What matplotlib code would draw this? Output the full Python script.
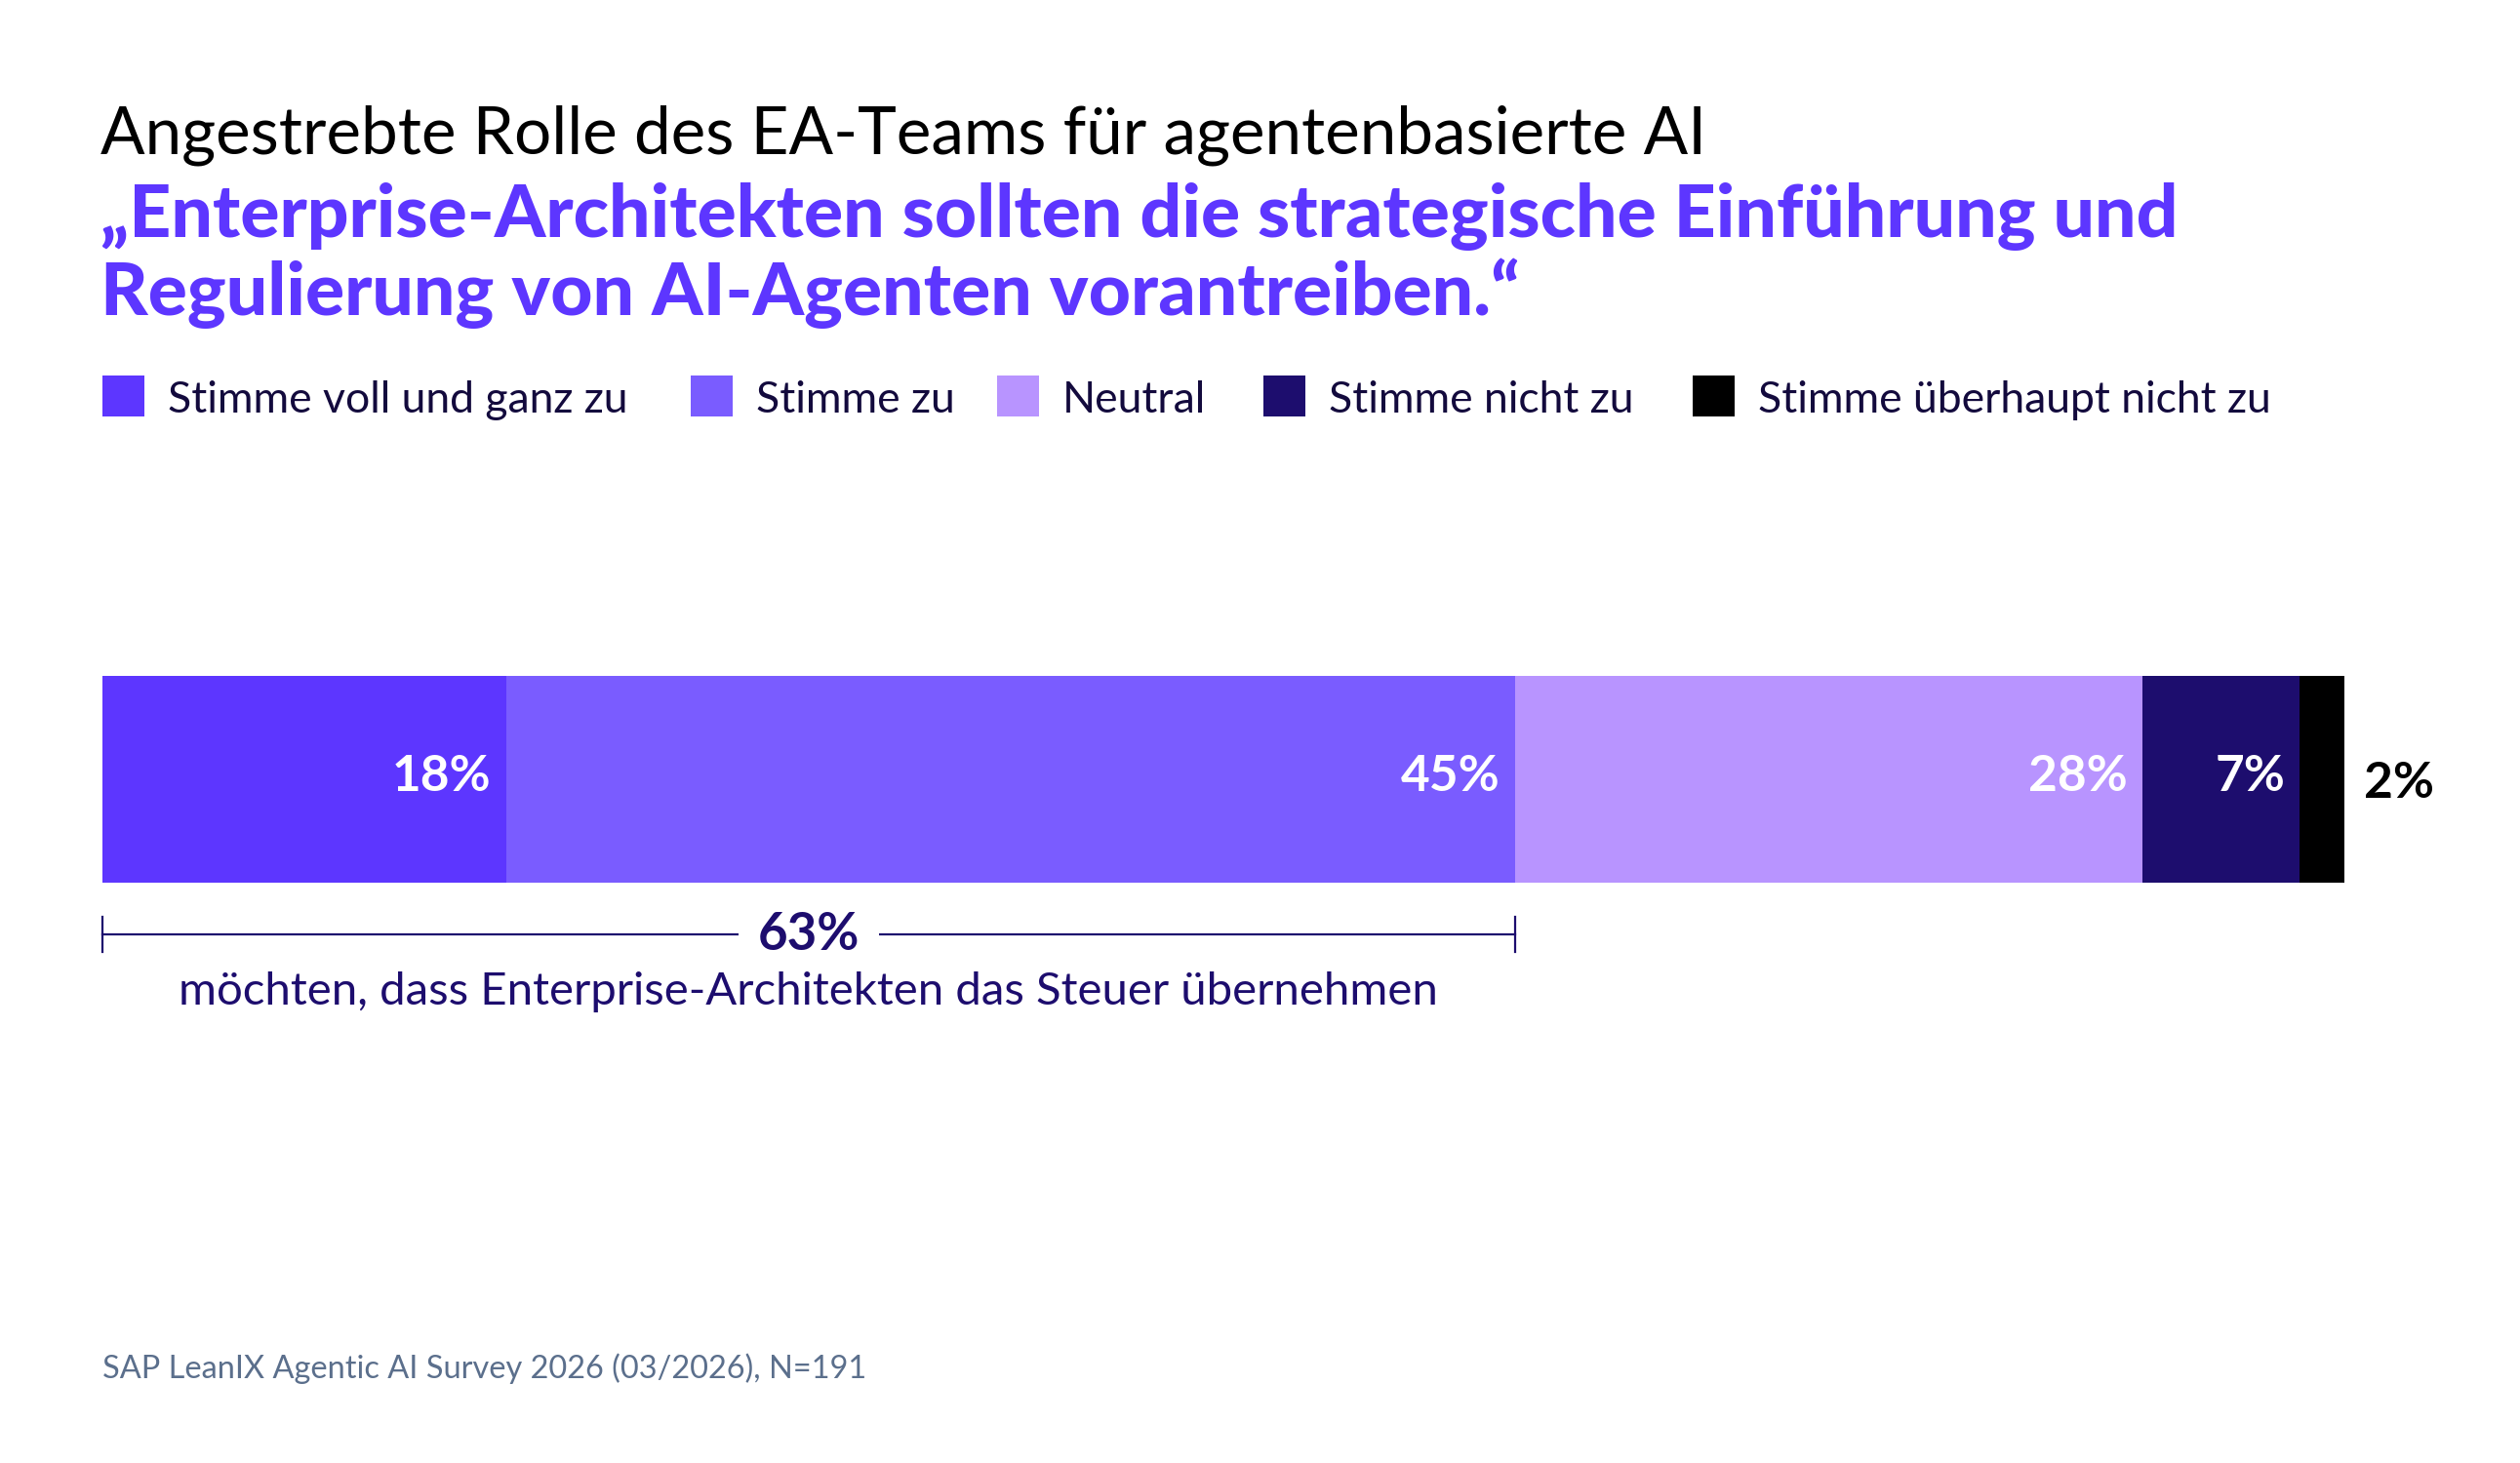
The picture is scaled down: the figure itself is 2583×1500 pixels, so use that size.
import matplotlib
matplotlib.use("Agg")
import matplotlib.pyplot as plt
from matplotlib.patches import Rectangle

# data
categories = ["Stimme voll und ganz zu", "Stimme zu", "Neutral",
              "Stimme nicht zu", "Stimme überhaupt nicht zu"]
values = [18, 45, 28, 7, 2]
colors = ["#5d36ff", "#7a5cff", "#b894ff", "#1d0d6e", "#000000"]
label_colors = ["white", "white", "white", "white", "black"]

title = "Angestrebte Rolle des EA-Teams für agentenbasierte AI"
subtitle_lines = ["„Enterprise-Architekten sollten die strategische Einführung und",
                  "Regulierung von AI-Agenten vorantreiben.“"]
bracket_label = "63%"
bracket_text = "möchten, dass Enterprise-Architekten das Steuer übernehmen"
source = "SAP LeanIX Agentic AI Survey 2026 (03/2026), N=191"

W, H = 2583, 1500
plt.rcParams['font.family'] = ['Lato', 'DejaVu Sans']

fig = plt.figure(figsize=(W / 100, H / 100), dpi=100)
fig.patch.set_facecolor("white")

# overlay axes in pixel coords for the text parts
ov = fig.add_axes([0, 0, 1, 1])
ov.set_xlim(0, W)
ov.set_ylim(H, 0)
ov.axis("off")

navy = "#1d0d6e"
ink = "#130a3d"

ov.text(103, 158, title, fontsize=48.5, fontweight="normal", color="#000000",
        va="baseline", ha="left")
for i, line in enumerate(subtitle_lines):
    ov.text(103, 243 + i * 80, line, fontsize=54, fontweight="black",
            color="#5d36ff", va="baseline", ha="left")

# legend
leg_x = [105, 708, 1022, 1295, 1735]
for cat, col, x in zip(categories, colors, leg_x):
    ov.add_patch(Rectangle((x, 385), 43, 42, facecolor=col, edgecolor="none"))
    ov.text(x + 67, 423, cat, fontsize=32, color=ink, va="baseline", ha="left")

ov.text(105, 1413, source, fontsize=23.4, color="#5b6f8c", va="baseline", ha="left")

# bar axes
bar_top, bar_bot = 693, 905
x0, x1 = 105, 2403
ax = fig.add_axes([x0 / W, 1 - bar_bot / H, (x1 - x0) / W, (bar_bot - bar_top) / H])
ax.set_xlim(0, 100)
ax.set_ylim(-0.5, 0.5)
ax.axis("off")

left = 0
for v, col, lc in zip(values, colors, label_colors):
    ax.barh(0, v, left=left, height=1, color=col, edgecolor="none")
    if v >= 5:
        ax.annotate(f"{v}%", (left + v, 0), xytext=(-15, 3), textcoords="offset pixels",
                    ha="right", va="center", fontsize=37, fontweight="bold", color=lc)
    else:
        ax.annotate(f"{v}%", (left + v, 0), xytext=(20, -4), textcoords="offset pixels",
                    ha="left", va="center", fontsize=37, fontweight="bold", color=lc)
    left += v

# bracket for the agreeing share
agree = values[0] + values[1]
px_per_unit = (bar_bot - bar_top)
yb = -0.5 - 53 / px_per_unit
ax.plot([0, agree], [yb, yb], color=navy, lw=1.6, clip_on=False)
for xx in (0, agree):
    ax.plot([xx, xx], [yb - 18 / px_per_unit, yb + 18 / px_per_unit], color=navy,
            lw=1.6, clip_on=False)
ax.text(agree / 2, yb, bracket_label, ha="center", va="center", fontsize=38,
        fontweight="bold", color=navy,
        bbox=dict(facecolor="white", edgecolor="none", pad=14))
ax.text(agree / 2, -0.5 - 112 / px_per_unit, bracket_text, ha="center", va="center",
        fontsize=34, color=navy)

fig.savefig("out.png", dpi=100, facecolor="white")
